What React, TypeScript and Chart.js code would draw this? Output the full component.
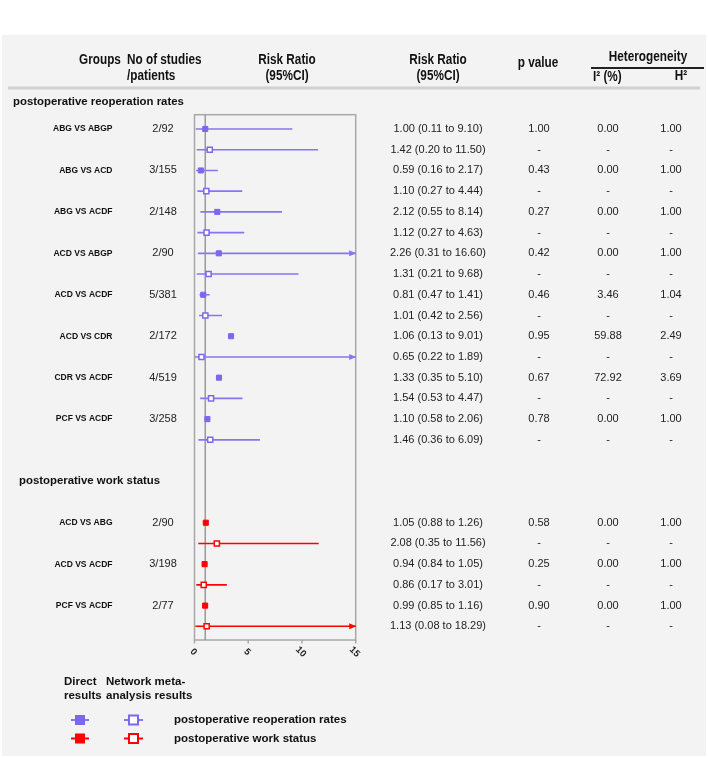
import React, { useEffect, useRef } from "react";
import { Chart, registerables } from "chart.js";
Chart.register(...registerables);

// ---------- data ----------
const reopGroups = ["ABG VS ABGP", "ABG VS ACD", "ABG VS ACDF", "ACD VS ABGP", "ACD VS ACDF", "ACD VS CDR", "CDR VS ACDF", "PCF VS ACDF"];
const reopStudies = ["2/92", "3/155", "2/148", "2/90", "5/381", "2/172", "4/519", "3/258"];
// plotted values (as drawn in the figure)
const reopDirectRR = [1.0, 0.59, 2.12, 2.26, 0.81, 3.4, 2.28, 1.2];
const reopDirectLo: (number | null)[] = [0.11, 0.16, 0.55, 0.31, 0.47, null, null, null];
const reopDirectHi: (number | null)[] = [9.1, 2.17, 8.14, 16.6, 1.41, null, null, null];
const reopNetRR = [1.42, 1.1, 1.12, 1.31, 1.01, 0.65, 1.54, 1.46];
const reopNetLo = [0.2, 0.27, 0.27, 0.21, 0.42, 0.05, 0.53, 0.36];
const reopNetHi = [11.5, 4.44, 4.63, 9.68, 2.56, 16.0, 4.47, 6.09];
// table text
const reopDirectText = ["1.00 (0.11 to 9.10)", "0.59 (0.16 to 2.17)", "2.12 (0.55 to 8.14)", "2.26 (0.31 to 16.60)", "0.81 (0.47 to 1.41)", "1.06 (0.13 to 9.01)", "1.33 (0.35 to 5.10)", "1.10 (0.58 to 2.06)"];
const reopNetText = ["1.42 (0.20 to 11.50)", "1.10 (0.27 to 4.44)", "1.12 (0.27 to 4.63)", "1.31 (0.21 to 9.68)", "1.01 (0.42 to 2.56)", "0.65 (0.22 to 1.89)", "1.54 (0.53 to 4.47)", "1.46 (0.36 to 6.09)"];
const reopP = ["1.00", "0.43", "0.27", "0.42", "0.46", "0.95", "0.67", "0.78"];
const reopI2 = ["0.00", "0.00", "0.00", "0.00", "3.46", "59.88", "72.92", "0.00"];
const reopH2 = ["1.00", "1.00", "1.00", "1.00", "1.04", "2.49", "3.69", "1.00"];

const workGroups = ["ACD VS ABG", "ACD VS ACDF", "PCF VS ACDF"];
const workStudies = ["2/90", "3/198", "2/77"];
const workDirectRR = [1.05, 0.94, 0.99];
const workDirectLo = [0.88, 0.84, 0.85];
const workDirectHi = [1.26, 1.05, 1.16];
const workNetRR = [2.08, 0.86, 1.13];
const workNetLo = [0.35, 0.17, 0.08];
const workNetHi = [11.56, 3.01, 18.29];
const workDirectText = ["1.05 (0.88 to 1.26)", "0.94 (0.84 to 1.05)", "0.99 (0.85 to 1.16)"];
const workNetText = ["2.08 (0.35 to 11.56)", "0.86 (0.17 to 3.01)", "1.13 (0.08 to 18.29)"];
const workP = ["0.58", "0.25", "0.90"];
const workI2 = ["0.00", "0.00", "0.00"];
const workH2 = ["1.00", "1.00", "1.00"];

const xTicks = [0, 5, 10, 15];
const sectionTitles = ["postoperative reoperation rates", "postoperative work status"];

// ---------- styles ----------
const PURPLE = "#7b68ee";
const PURPLE_LINE = "#8676f0";
const RED = "#ff0000";
const FONT = "'Liberation Sans', Arial, sans-serif";
const WORK_START = 19;

type Row = {
  idx: number; rr: number; lo: number | null; hi: number | null;
  color: string; lineColor: string; open: boolean;
  text: string; p: string; i2: string; h2: string; label?: string; studies?: string;
};

function buildRows(): Row[] {
  const rows: Row[] = [];
  reopGroups.forEach((g, k) => {
    rows.push({ idx: 2 * k, rr: reopDirectRR[k], lo: reopDirectLo[k], hi: reopDirectHi[k], color: PURPLE, lineColor: PURPLE_LINE, open: false,
      text: reopDirectText[k], p: reopP[k], i2: reopI2[k], h2: reopH2[k], label: g, studies: reopStudies[k] });
    rows.push({ idx: 2 * k + 1, rr: reopNetRR[k], lo: reopNetLo[k], hi: reopNetHi[k], color: PURPLE, lineColor: PURPLE_LINE, open: true,
      text: reopNetText[k], p: "-", i2: "-", h2: "-" });
  });
  workGroups.forEach((g, k) => {
    rows.push({ idx: WORK_START + 2 * k, rr: workDirectRR[k], lo: workDirectLo[k], hi: workDirectHi[k], color: RED, lineColor: RED, open: false,
      text: workDirectText[k], p: workP[k], i2: workI2[k], h2: workH2[k], label: g, studies: workStudies[k] });
    rows.push({ idx: WORK_START + 2 * k + 1, rr: workNetRR[k], lo: workNetLo[k], hi: workNetHi[k], color: RED, lineColor: RED, open: true,
      text: workNetText[k], p: "-", i2: "-", h2: "-" });
  });
  return rows;
}

function txt(ctx: CanvasRenderingContext2D, s: string, x: number, y: number, font: string, align: CanvasTextAlign = "left", color = "#111", sx = 1) {
  ctx.save();
  ctx.font = font;
  ctx.fillStyle = color;
  ctx.textAlign = align;
  ctx.textBaseline = "middle";
  ctx.translate(x, y);
  ctx.scale(sx, 1);
  ctx.fillText(s, 0, 0);
  ctx.restore();
}

export default function App() {
  const ref = useRef<HTMLCanvasElement>(null);
  useEffect(() => {
    const rows = buildRows();
    const markerSets = [
      { rows: rows.filter(r => r.color === PURPLE && !r.open), color: PURPLE, open: false },
      { rows: rows.filter(r => r.color === PURPLE && r.open), color: PURPLE, open: true },
      { rows: rows.filter(r => r.color === RED && !r.open), color: RED, open: false },
      { rows: rows.filter(r => r.color === RED && r.open), color: RED, open: true },
    ];
    const datasets: any[] = markerSets.map(m => ({
      type: "scatter",
      data: m.rows.map(r => ({ x: r.rr, y: r.idx })),
      pointStyle: "rect",
      pointRadius: 3.6,
      pointHoverRadius: 3.6,
      backgroundColor: m.open ? "#ffffff" : m.color,
      borderColor: m.color,
      borderWidth: m.open ? 1.5 : 1,
      order: 0,
    }));
    rows.forEach(r => {
      if (r.lo == null || r.hi == null) return;
      datasets.push({
        type: "scatter",
        showLine: true,
        data: [{ x: r.lo, y: r.idx }, { x: r.hi, y: r.idx }],
        borderColor: r.lineColor,
        borderWidth: 1.6,
        pointRadius: 0,
        pointHoverRadius: 0,
        order: 1,
      });
    });

    const decor = {
      id: "decor",
      beforeDraw(chart: any) {
        const ctx: CanvasRenderingContext2D = chart.ctx;
        const xs = chart.scales.x, ys = chart.scales.y;
        const ca = chart.chartArea;
        ctx.save();
        // panel
        ctx.fillStyle = "#f3f3f3";
        ctx.fillRect(2, 35, 704, 721);
        // header
        const hb = `bold 14px ${FONT}`;
        const sx = 0.84;
        txt(ctx, "Groups", 100, 60, hb, "center", "#111", sx);
        txt(ctx, "No of studies", 127, 60, hb, "left", "#111", sx);
        txt(ctx, "/patients", 127, 76, hb, "left", "#111", sx);
        txt(ctx, "Risk Ratio", 287, 60, hb, "center", "#111", sx);
        txt(ctx, "(95%CI)", 287, 76, hb, "center", "#111", sx);
        txt(ctx, "Risk Ratio", 438, 60, hb, "center", "#111", sx);
        txt(ctx, "(95%CI)", 438, 76, hb, "center", "#111", sx);
        txt(ctx, "p value", 538, 63, hb, "center", "#111", sx);
        txt(ctx, "Heterogeneity", 648, 57, hb, "center", "#111", sx);
        txt(ctx, "I² (%)", 593, 77, hb, "left", "#111", sx);
        txt(ctx, "H²", 681, 76, hb, "center", "#111", sx);
        ctx.strokeStyle = "#222";
        ctx.lineWidth = 2;
        ctx.beginPath(); ctx.moveTo(591, 68); ctx.lineTo(704, 68); ctx.stroke();
        ctx.strokeStyle = "#d0d0d0";
        ctx.lineWidth = 3;
        ctx.beginPath(); ctx.moveTo(8, 88); ctx.lineTo(700, 88); ctx.stroke();
        // section titles
        const st = `bold 11.4px ${FONT}`;
        txt(ctx, sectionTitles[0], 13, ys.getPixelForValue(-1.33), st, "left");
        txt(ctx, sectionTitles[1], 19, ys.getPixelForValue(17), st, "left");
        // row texts
        rows.forEach(r => {
          const y = ys.getPixelForValue(r.idx);
          if (r.label) txt(ctx, r.label, 112.5, y, `bold 8.5px ${FONT}`, "right");
          if (r.studies) txt(ctx, r.studies, 163, y, `11px ${FONT}`, "center", "#222");
          txt(ctx, r.text, 438, y, `11px ${FONT}`, "center", "#222");
          txt(ctx, r.p, 539, y, `11px ${FONT}`, "center", "#222");
          txt(ctx, r.i2, 608, y, `11px ${FONT}`, "center", "#222");
          txt(ctx, r.h2, 671, y, `11px ${FONT}`, "center", "#222");
        });
        // plot box
        ctx.strokeStyle = "#a8a8a8";
        ctx.lineWidth = 1.5;
        ctx.strokeRect(ca.left, ca.top, ca.right - ca.left, ca.bottom - ca.top);
        // reference line at 1
        const x1 = xs.getPixelForValue(1);
        ctx.strokeStyle = "#9a9a9a";
        ctx.beginPath(); ctx.moveTo(x1, ca.top); ctx.lineTo(x1, ca.bottom); ctx.stroke();
        // ticks
        xTicks.forEach(t => {
          const x = xs.getPixelForValue(t);
          ctx.strokeStyle = "#a8a8a8";
          ctx.beginPath(); ctx.moveTo(x, ca.bottom); ctx.lineTo(x, ca.bottom + 3.5); ctx.stroke();
          ctx.save();
          ctx.translate(x - 1, ca.bottom + 12);
          ctx.rotate(Math.PI / 4);
          txt(ctx, String(t), 0, 0, `bold 9.5px ${FONT}`, "center", "#222");
          ctx.restore();
        });
        // legend
        const lf = `bold 11.5px ${FONT}`;
        txt(ctx, "Direct", 64, 682, lf);
        txt(ctx, "results", 64, 695.5, lf);
        txt(ctx, "Network meta-", 106, 682, lf);
        txt(ctx, "analysis results", 106, 695.5, lf);
        const legendRows = [
          { y: 720, c: PURPLE, l: PURPLE_LINE, t: sectionTitles[0] },
          { y: 738.5, c: RED, l: RED, t: sectionTitles[1] },
        ];
        legendRows.forEach(lr => {
          ctx.strokeStyle = lr.l;
          ctx.lineWidth = 2;
          ctx.beginPath(); ctx.moveTo(71, lr.y); ctx.lineTo(89, lr.y); ctx.stroke();
          ctx.beginPath(); ctx.moveTo(124, lr.y); ctx.lineTo(143, lr.y); ctx.stroke();
          ctx.fillStyle = lr.c;
          ctx.fillRect(80 - 5, lr.y - 5, 10, 10);
          ctx.fillStyle = "#ffffff";
          ctx.fillRect(133.5 - 4.5, lr.y - 4.5, 9, 9);
          ctx.strokeStyle = lr.c;
          ctx.lineWidth = 2;
          ctx.strokeRect(133.5 - 4.5, lr.y - 4.5, 9, 9);
          txt(ctx, lr.t, 174, lr.y, lf);
        });
        ctx.restore();
      },
      afterDatasetsDraw(chart: any) {
        const ctx: CanvasRenderingContext2D = chart.ctx;
        const xs = chart.scales.x, ys = chart.scales.y;
        const max = xs.max;
        ctx.save();
        rows.forEach(r => {
          if (r.hi != null && r.hi > max) {
            const tip = xs.getPixelForValue(max) + 0.5;
            const y = ys.getPixelForValue(r.idx);
            ctx.fillStyle = r.lineColor;
            ctx.beginPath();
            ctx.moveTo(tip, y);
            ctx.lineTo(tip - 7, y - 3);
            ctx.lineTo(tip - 7, y + 3);
            ctx.closePath();
            ctx.fill();
          }
        });
        ctx.restore();
      },
    };

    const chart = new Chart(ref.current as HTMLCanvasElement, {
      type: "scatter",
      data: { datasets },
      options: {
        responsive: false,
        animation: false,
        devicePixelRatio: 1,
        layout: { padding: { left: 194.5, right: 708 - 355.7, top: 114.7, bottom: 758 - 640 } },
        scales: {
          x: { type: "linear", min: 0, max: 15, display: false },
          y: { type: "linear", min: -0.69, max: 24.66, reverse: true, display: false },
        },
        plugins: { legend: { display: false }, tooltip: { enabled: false } },
      },
      plugins: [decor],
    } as any);
    return () => chart.destroy();
  }, []);
  return (
    <div style={{ position: "absolute", left: 0, top: 0, width: 708, height: 758 }}>
      <canvas ref={ref} width={708} height={758} style={{ display: "block" }} />
    </div>
  );
}
